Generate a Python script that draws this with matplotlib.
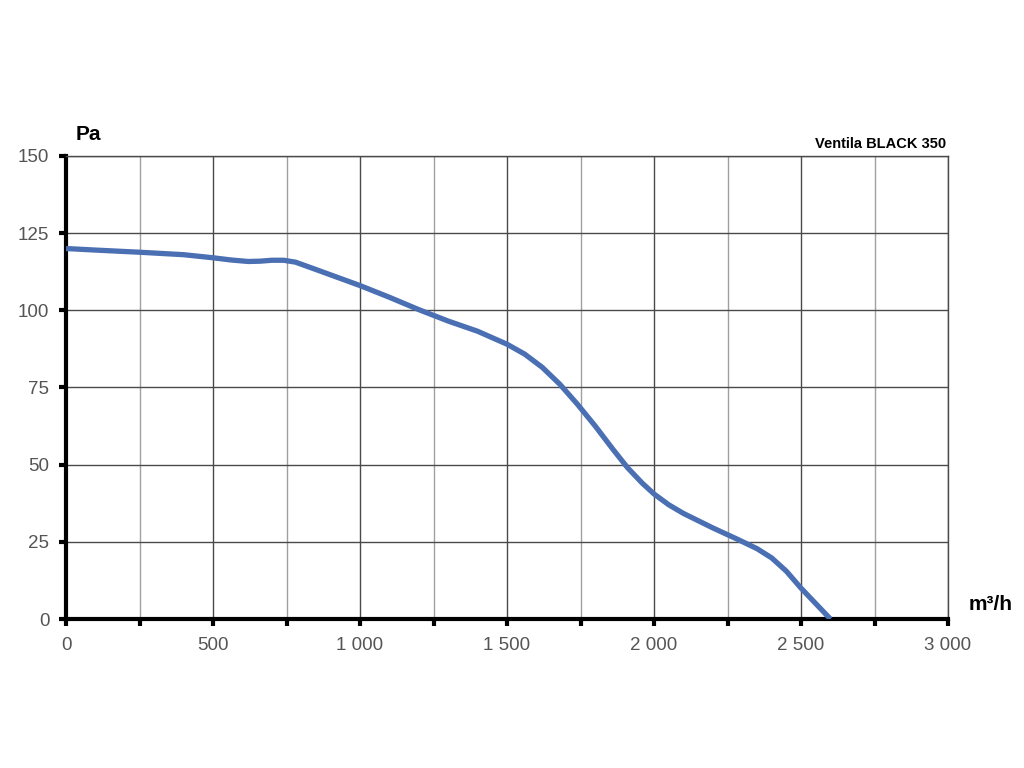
import matplotlib
matplotlib.use('Agg')
import matplotlib.pyplot as plt
from matplotlib.ticker import MultipleLocator, FuncFormatter

plt.rcParams['font.family'] = ['Liberation Sans', 'DejaVu Sans']

# airflow (m3/h) vs static pressure (Pa)
flow = [0, 100, 250, 400, 500, 560, 620, 660, 700, 740, 780, 850, 1000, 1100, 1200,
        1300, 1400, 1500, 1560, 1620, 1680, 1740, 1800, 1860, 1910, 1960, 2000,
        2050, 2100, 2200, 2280, 2350, 2400, 2450, 2500, 2550, 2600]
pressure = [120, 119.5, 118.8, 118, 117, 116.3, 115.8, 115.9, 116.2, 116.2, 115.6, 113.2,
            108, 104.2, 100.2, 96.5, 93.2, 89, 85.8, 81.5, 76, 69.5, 62.5, 55,
            49, 44, 40.5, 37, 34.2, 29.5, 26, 22.8, 19.8, 15.5, 10, 5, 0]

fig = plt.figure(figsize=(10.24, 7.68), dpi=100)
ax = fig.add_axes([0.0645, 0.194, 0.8613, 0.603])

ax.set_xlim(0, 3000)
ax.set_ylim(0, 150)
ax.xaxis.set_major_locator(MultipleLocator(500))
ax.xaxis.set_minor_locator(MultipleLocator(250))
ax.yaxis.set_major_locator(MultipleLocator(25))
ax.xaxis.set_major_formatter(FuncFormatter(lambda v, p: f'{int(v):,}'.replace(',', ' ')))

ax.grid(True, which='major', color='#4a4a4a', linewidth=1.0)
ax.grid(True, which='minor', axis='x', color='#a0a0a0', linewidth=1.0)
ax.set_axisbelow(True)

for side in ['top', 'right']:
    ax.spines[side].set_color('#4a4a4a')
    ax.spines[side].set_linewidth(1.0)
for side in ['left', 'bottom']:
    ax.spines[side].set_color('black')
    ax.spines[side].set_linewidth(3)

ax.tick_params(axis='both', which='both', colors='black', width=3, length=5,
               labelcolor='#555555', labelsize=13.5)
ax.tick_params(axis='x', which='both', pad=8)
ax.tick_params(axis='y', which='both', pad=7)

ax.plot(flow, pressure, color='#4a6fb3', linewidth=3.8, solid_capstyle='butt',
        solid_joinstyle='round', zorder=3)

fig.text(0.086, 0.825, 'Pa', fontsize=15, fontweight='bold', ha='center', va='center')
fig.text(0.967, 0.213, 'm³/h', fontsize=15, fontweight='bold', ha='center', va='center')
fig.text(0.924, 0.813, 'Ventila BLACK 350', fontsize=10.5, fontweight='bold',
         ha='right', va='center')

fig.savefig('out.png', dpi=100)
